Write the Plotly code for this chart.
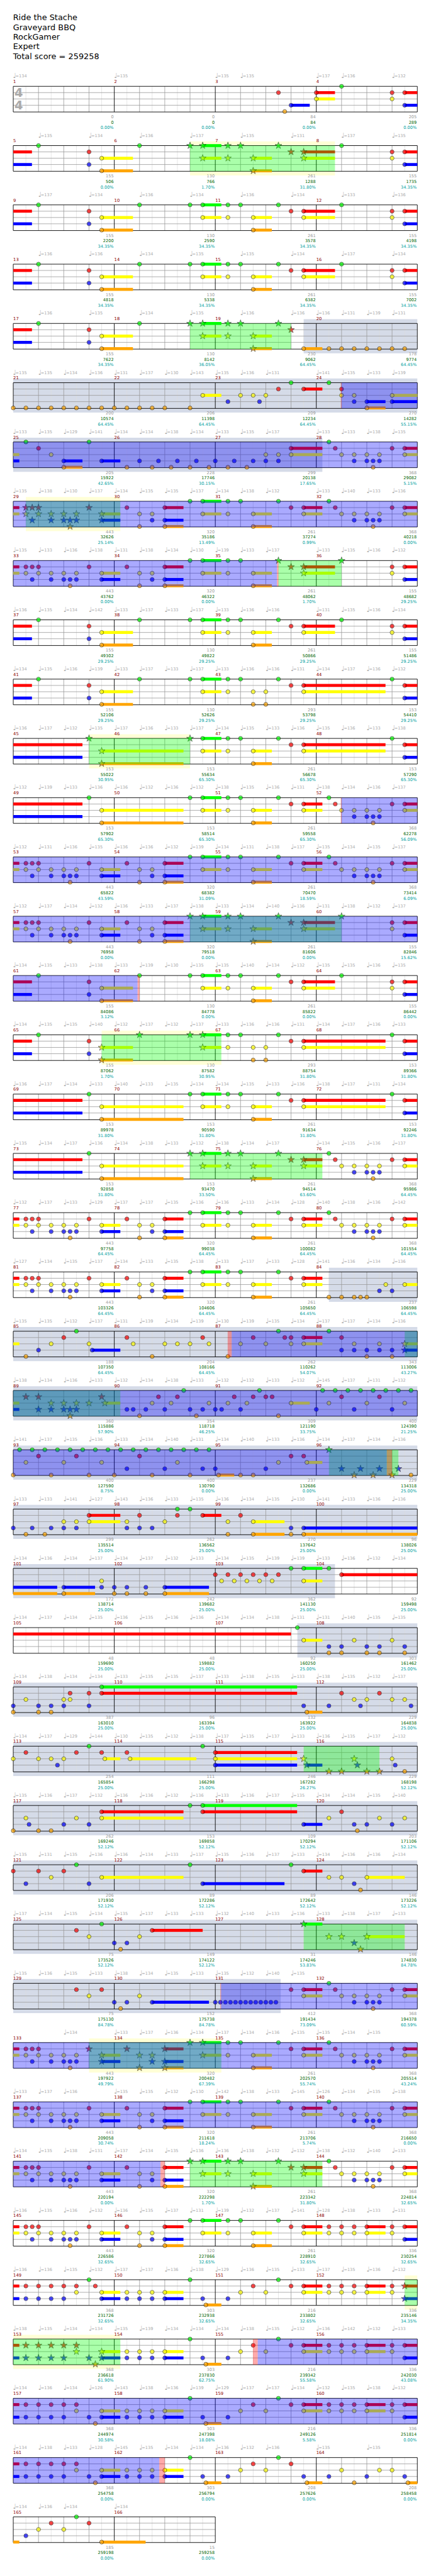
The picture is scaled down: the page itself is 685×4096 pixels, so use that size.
import plotly.graph_objects as go

_ = None
TITLE_LINES = ["Ride the Stache", "Graveyard BBQ", "RockGamer", "Expert", "Total score = 259258"]

# Notes per staff row, beat within the row; (start, end) is a sustained note (end > 16 runs on to next row)
GREEN = [
 [13],
 [1,5,7,(7.5,8.24),8.5,9,10.5,13],
 [1,5,7,(7.5,8.24),8.5,9,10.5,13],
 [1,5,7,(7.5,8.24),8.5,9,10.5,13],
 [1,5,7,(7.5,8.24),8.5,9,10.5],
 [11,12.5],
 [.5,3,12.5],
 [7,(7.5,8.24),8.5,9,10.5,12.5],
 [7,(7.5,8.24),8.5,9,10.5,13],
 [1,5,7,(7.5,8.24),8.5,9,10.5,13],
 [1,5,7,(7.5,8.24),8.5,9,10.5,15],
 [3,7,(7.5,8.24),8.5,9,10.5,15],
 [3,7,(7.5,8.24),8.5,9,10.5,12.5],
 [7,(7.5,8.24),8.5,9,10.5,12.5],
 [7,(7.5,8.24),8.5,9,10.5,13],
 [1,5,7,(7.5,8.24),8.5,9,10.5,13],
 [1,5,7,(7.5,8.24),8.5,9,10.5,15],
 [3,7,(7.5,8.24),8.5,9,10.5,15],
 [3,7,(7.5,8.24),8.5,9,10.5,12.5],
 [7,(7.5,8.24),8.5,9,10.5,12.5],
 [7,(7.5,8.24),8.5,9,10.5],
 [2.5,10.5,12.5],
 [6.75,9.75,12.25,12.75,13.25,13.75,14.25,14.75,15.25,15.75],
 [.25,.75,1.25,1.75,2.25,2.75,3.25,3.75,4.25,4.75,5.25,5.75,6.25,6.75,7.25,7.75,12.5],
 [6.5,7],
 [11,(11.5,12.24),12.5],
 [11.25],
 [(3.5,11.24)],
 [3,7.5],
 [7,(7.5,11.24)],
 [2.5,7,11],
 [3.5,(11.5,12.24)],
 [12.5],
 [7,(7.5,8.24),8.5,9,10.5,12.5],
 [7,(7.5,8.24),8.5,9,10.5,12.5],
 [7,(7.5,8.24),8.5,9,10.5,12.5],
 [7,(7.5,8.24),8.5,9,10.5],
 [3,7,10.5],
 [7,10.5],
 [7,10.5],
 [7,10.5],
 [2.5],
]
RED = [
 [10.5,(12,12.74),15,(15.5,16.74)],
 [3,11,(11.5,12.74),15,(15.5,16.74)],
 [3,11,(11.5,12.74),15,(15.5,16.74)],
 [3,11,(11.5,12.74),15,(15.5,16.74)],
 [3,11],
 [10.5,(11.5,12.24),13],
 [1,(11,12.24),12.75,15,(15.5,16.24)],
 [.5,.75,1,3,4.5,(6,6.74),11,(11.5,12.24),12.75,15,(15.5,16.24)],
 [.5,.75,1,3,4.5,(6,6.74),11,(11.5,12.74),15,(15.5,16.74)],
 [3,11,(11.5,12.74),15,(15.5,16.74)],
 [3,11,(11.5,14.74),(15.5,18.74)],
 [11,(11.5,14.74),(15.5,18.74)],
 [11,(11.5,12.24),12.75,15,(15.5,16.24)],
 [.5,.75,1,3,4.5,(6,6.74),11,(11.5,12.24),12.75,15,(15.5,16.24)],
 [.5,.75,1,3,4.5,(6,6.74),11,(11.5,12.74),15,(15.5,16.74)],
 [3,11,(11.5,12.74),15,(15.5,16.74)],
 [3,11,(11.5,14.74),(15.5,18.74)],
 [11,(11.5,14.74),(15.5,18.74)],
 [11,(11.5,12.24),12.75,15,(15.5,16.24)],
 [.5,.75,1,3,4.5,(6,6.74),11,(11.5,12.24),12.75,15,(15.5,16.24)],
 [.5,.75,1,3,4.5,(6,6.74),11,(11.5,12.24)],
 [2,4.5,7.5,9.5,10.75,11,(11.5,12.24),13],
 [.5,1,3.5,5.75,6.5,8.75,9.5,10,10.25,13,14.5],
 [1,2.5,5,11,11.5],
 [(3,4.24),5,6.5,(7.5,8.24),9],
 [8,8.5,9,9.5,10,10.5,(13,27)],
 [],
 [2.25,3,(3.5,11.24),13,14.5],
 [.5,2.5,3.5,4.5,(8,11.24)],
 [(3.5,6.74),(7.5,11.24),13],
 [0,1,2,(11.5,12.24)],
 [2.5,(5.5,7.5)],
 [2.5,3.5,11,(11.5,12.24),12.75,15,(15.5,16.24)],
 [.5,.75,1,3,4.5,(6,6.74),11,(11.5,12.24),12.75,15,(15.5,16.24)],
 [.5,.75,1,3,4.5,(6,6.74),11,(11.5,12.24),12.75,15,(15.5,16.24)],
 [.5,.75,1,3,4.5,(6,6.74),11,(11.5,12.24),12.75,15,(15.5,16.24)],
 [.5,.75,1,3,4.5,(6,6.74),11,(11.5,12.24),12.5,13,13.5,(14,14.74),15,(15.5,16.24)],
 [.5,1,1.5,2,2.5,3.25,9.5,11,(11.5,12.24),12.5,13,13.5,(14,14.74),15,(15.5,16.24)],
 [.5,1,1.5,2,2.5,9.5,11,(11.5,12.24),12.5,13,13.5,(14,14.74),15,(15.5,16.24)],
 [.5,1,1.5,2,2.5,9.5,11,(11.5,12.24),12.5,13,13.5,(14,14.74),15,(15.5,16.24)],
 [.5,1,1.5,2,2.5,9.5,11],
 [1.5,3],
]
YELLOW = [
 [(12,12.74),15],
 [(3.5,4.74),(7.5,8.24),8.5,(9.5,10.24),(11.5,12.74),15],
 [(3.5,4.74),(7.5,8.24),8.5,(9.5,10.24),(11.5,12.74),15],
 [(3.5,4.74),(7.5,8.24),8.5,(9.5,10.24),(11.5,12.74),15],
 [(3.5,4.74),(7.5,8.24),8.5,(9.5,10.24)],
 [(7.5,8.24),9,9.5,10,13,13.5,(15,16.24)],
 [1.5,10,10.5,(11,12.24),13,13.5,14,14.5,(15.5,16.24)],
 [.5,1,1.5,2,2.5,(3.5,4.24),5,5.5,(7.5,8.24),8.5,(9.5,10.24),(11.5,12.24),13,13.5,14,14.5,(15.5,16.24)],
 [.5,1,1.5,2,2.5,(3.5,4.24),5,5.5,(7.5,8.24),8.5,(9.5,10.24),(11.5,12.74),15],
 [(3.5,4.74),(7.5,8.24),8.5,(9.5,10.24),(11.5,12.74),15],
 [(3.5,4.74),(7.5,8.24),8.5,9.5,10,(11.5,14.74)],
 [(3.5,6.74),(7.5,8.24),8.5,(9.5,10.24),(11.5,14.74)],
 [(3.5,6.74),(7.5,8.24),8.5,(9.5,10.24),(11.5,12.24),13,13.5,14,14.5,(15.5,16.24)],
 [.5,1,1.5,2,2.5,(3.5,4.24),5,5.5,(7.5,8.24),8.5,(9.5,10.24),(11.5,12.24),13,13.5,14,14.5,(15.5,16.24)],
 [.5,1,1.5,2,2.5,(3.5,4.24),5,5.5,(7.5,8.24),8.5,(9.5,10.24),(11.5,12.74),15],
 [(3.5,4.74),(7.5,8.24),8.5,(9.5,10.24),(11.5,12.74),15],
 [(3.5,4.74),(7.5,8.24),8.5,9.5,10,(11.5,14.74)],
 [(3.5,6.74),(7.5,8.24),8.5,(9.5,10.24),(11.5,14.74)],
 [(3.5,6.74),(7.5,8.24),8.5,(9.5,10.24),(11.5,12.24),13,13.5,14,14.5,(15.5,16.24)],
 [.5,1,1.5,2,2.5,(3.5,4.24),5,5.5,(7.5,8.24),8.5,(9.5,10.24),(11.5,12.24),13,13.5,14,14.5,(15.5,16.24)],
 [.5,1,1.5,2,2.5,(3.5,4.24),5,5.5,(7.5,8.24),8.5,(9.5,10.24),(11.5,12.24),14.75,(15.5,16.24)],
 [1.5,3,4.75,6,6.5,7,7.75,9,10,11,(11.5,12.24),13.5,14.5,(15.5,16.24)],
 [1.5,2,2.5,3,(3.625,4.24),5.5,6.25,7.75,8.5,9.25,(11,11.74),12.5,14,15.5],
 [.5,2,3.5,6.5,10.5,(11.625,12.24)],
 [2,2.5,(3,4.24),4.5,6,8.5,(9.5,10.74)],
 [3.5,8.25,8.75,9.25,9.75,10.25,(11.5,12.24)],
 [(11.5,12.24),13.5,15],
 [.5,2,2.25,13.5,14,15,15.5],
 [0,1,1.5,2,(3.625,4.24),(4.625,7.25),(8,11.24),11.5,13.5,15],
 [.5,2.5,(3.5,6.74),12.5,14.5,15.5],
 [1.5,(3.5,6.74),12.5,13,(14,15.5)],
 [3,5,12.5,13,(14,15.5)],
 [3,5,(11.5,12.24),13,13.5,14,14.5,(15.5,16.24)],
 [.5,1,1.5,2,2.5,(3.5,4.24),5,5.5,(7.5,8.24),8.5,(9.5,10.24),(11.5,12.24),13,13.5,14,14.5,(15.5,16.24)],
 [.5,1,1.5,2,2.5,(3.5,4.24),5,5.5,(7.5,8.24),8.5,(9.5,10.24),(11.5,12.24),13,13.5,14,14.5,(15.5,16.24)],
 [.5,1,1.5,2,2.5,(3.5,4.24),5,5.5,(7.5,8.24),8.5,(9.5,10.24),(11.5,12.24),13,13.5,14,14.5,(15.5,16.24)],
 [.5,1,1.5,2,2.5,(3.5,4.24),5,5.5,(7.5,8.24),8.5,(9.5,10.24),(11.5,12.24),12.5,13,13.5,(14,14.74),15],
 [2.5,(3.5,4.24),4.5,5,5.5,(6,6.74),9,10,(11.5,12.24),12.5,13,13.5,(14,14.74),15],
 [2.5,(3.5,4.24),4.5,5,5.5,(6,6.74),9,10,(11.5,12.24),12.5,13,13.5,(14,14.74),15],
 [2.5,(3.5,4.24),4.5,5,5.5,(6,6.74),9,10,(11.5,12.24),12.5,13,13.5,(14,14.74),15],
 [2.5,(3.5,4.24),4.5,5,5.5,(6,6.74),9,10,13,14.5,15],
 [1,2],
]
BLUE = [
 [(11,11.74),(15.5,16.74)],
 [3,(15.5,16.74)],
 [3,(15.5,16.74)],
 [3,(15.5,16.74)],
 [3],
 [8.5,9.75,13.5,(14,14.74),(15,16.24)],
 [(2,2.74),(3.5,4.24),5,5.75,6.5,7.25,8,8.75,9.5,10,10.5,13.5,14,14.25,14.5],
 [.75,1.5,2,2.25,2.5,(3.5,4.24),5.5,(6,6.74),13.5,14,14.25,14.5],
 [.75,1.5,2,2.25,2.5,(3.5,4.24),5.5,(6,6.74),(15.5,16.74)],
 [3,(15.5,16.74)],
 [3,(15.5,18.74)],
 [(15.5,18.74)],
 [13.5,14,14.25,14.5],
 [.75,1.5,2,2.25,2.5,(3.5,4.24),5.5,(6,6.74),13.5,14,14.25,14.5],
 [.75,1.5,2,2.25,2.5,(3.5,4.24),5.5,(6,6.74),(15.5,16.74)],
 [3,(15.5,16.74)],
 [3,(15.5,18.74)],
 [(15.5,18.74)],
 [13.5,14,14.25,14.5],
 [.75,1.5,2,2.25,2.5,(3.5,4.24),5.5,(6,6.74),13.5,14,14.25,14.5],
 [.75,1.5,2,2.25,2.5,(3.5,4.24),5.5,(6,6.74),14.5,15],
 [1,(3.125,4.24),13,13.5,14,14.5,15,(15.5,16.24)],
 [1,1.5,2,2.25,2.5,4.5,4.75,5.25,6,7,7.5,8,8.25,9,12,13.5,15],
 [4.5,6,7.5,8,10,13,13.75,14.5,15.25],
 [0,.75,1.5,2,2.5,4.5,5,5.5,11,(11.5,17.74)],
 [(2,3.24),3.5,4,4.5,5.25,(6,7.75)],
 [12.5,13,14,14.5,15.5],
 [0,1,1.5,2,3,11.5,12.5,13.75,15.75],
 [1.75,(8,11.24),(11.625,12.24),13.625,15.125],
 [.625,2,3,(11.5,12.24),13.5,14,15],
 [.5,3,(7.5,10.74),13.5],
 [4,4.5,13.5],
 [4,4.5,(5.5,7.75),8,8.2,8.4,8.6,8.8,9,9.2,9.4,9.6,9.8,10,10.2,10.4,13.5,14,14.25,14.5],
 [.75,1.5,2,2.25,2.5,(3.5,4.24),5.5,(6,6.74),13.5,14,14.25,14.5],
 [.75,1.5,2,2.25,2.5,(3.5,4.24),5.5,(6,6.74),13.5,14,14.25,14.5],
 [.75,1.5,2,2.25,2.5,(3.5,4.24),5.5,(6,6.74),13.5,14,14.25,14.5],
 [.75,1.5,2,2.25,2.5,(3.5,4.24),5.5,(6,6.74),(15.5,16.24)],
 [.5,1,1.5,2,(3.5,4.24),4.5,5,5.5,(6,6.74),7.5,8.5,(15.5,16.24)],
 [.5,1,1.5,2,3,(3.5,4.24),4.5,5,5.5,(6,6.74),7.5,8.5,(15.5,16.24)],
 [.5,1,1.5,2,3,(3.5,4.24),4.5,5,5.5,(6,6.74),7.5,8.5,(15.5,16.24)],
 [.5,1,1.5,2,3,(3.5,4.24),4.5,5,5.5,(6,6.74),7.5,8.5,11.5,12.5,14,15.5],
 [.5],
]
ORANGE = [
 [10.75],
 [(3.5,4.74),(9.5,10.24)],
 [(3.5,4.74),(9.5,10.24)],
 [(3.5,4.74),(9.5,10.24)],
 [(3.5,4.74),(9.5,10.24),(11.5,12.24),12.5,13,13.5,14,14.5,15,15.5],
 [0,.5,1,1.5,2,2.5,3,3.5,4,4.5,5,5.5,6,7,(14,14.74)],
 [(2,2.74),4.5,5.5,6.25,7,7.75,8.5,9.25,14.25],
 [2.25,5,(6,6.74),(9.5,10.24),14.25],
 [2.25,5,(6,6.74),(9.5,10.24)],
 [(3.5,4.74),(9.5,10.24)],
 [(3.5,4.74),9.5,10],
 [(3.5,6.74),(9.5,10.24)],
 [(3.5,6.74),(9.5,10.24),14.25],
 [2.25,5,(6,6.74),(9.5,10.24),14.25],
 [2.25,5,(6,6.74),(9.5,10.24)],
 [(3.5,4.74),(9.5,10.24)],
 [(3.5,4.74),9.5,10],
 [(3.5,6.74),(9.5,10.24)],
 [(3.5,6.74),(9.5,10.24),14.25],
 [2.25,5,(6,6.74),(9.5,10.24),14.25],
 [2.25,5,(6,6.74),(9.5,10.24),12.5,13,13.5,13.75,14],
 [.5,5.5,8.5,14,15],
 [2.25,5,7.25,10.5],
 [0,1.5,3,4,5.5,7,(8.125,8.75),9,9.5,13.5,14.25,15,15.75],
 [.5,1.25,8.5,(9.5,10.74),11,(11.5,17.74)],
 [(2,3.24),4,4.5,5.25,(6,7.75)],
 [12.5,13,14,14.5,15.5],
 [0,1,1.5,(11.625,12.24)],
 [12.5,13,14,14.5,15.5],
 [0,1,1.5,13.625],
 [13.75],
 [4.25,13.75],
 [4.25,14.25],
 [2.25,5,(6,6.74),(9.5,10.24),14.25],
 [2.25,5,(6,6.74),(9.5,10.24),14.25],
 [2.25,5,(6,6.74),(9.5,10.24),14.25],
 [2.25,5,(6,6.74),(9.5,10.24)],
 [(7.625,8.24)],
 [3.25,(7.625,8.24)],
 [3.25,(7.625,8.24)],
 [3.25,(7.625,8.24),(11.625,12.24),13.5,(15.625,16.24)],
 [(3.5,5.24)],
]

# Ranges: (first row, beat, last row, beat)
STAR_RANGES = [(1,7,1,12.74),(4,7,4,11),(7,.5,7,4.24),(8,10.5,8,13),(11,3,11,7),(14,7,14,13),
               (16,3.5,16,8.24),(18,7,18,12.24),(21,15.5,22,4.24),(23,12.5,23,15.25),(28,11.5,28,14.5),
               (31,11.5,31,15.5),(33,3,33,8.24),(35,7,35,12.24),(37,15.5,38,4.24)]
PALE_RANGES = [(1,7,1,12.74),(7,.5,7,4.24),(11,3,11,7),(16,3.5,16,8.24),(33,3,33,8.24),(37,15.5,38,4.24)]
GREY_RANGES = [(4,11.5,6,12.24),(20,12.5,25,12.74),(26,11.25,32,10.59)]
BLUE_RANGES = [(5,13,8,10.44),(12,13,15,4.92),(21,8.65,23,14.79),(32,8.23,35,5.83),(38,9.68,40,5.78)]
RED_RANGES = [(5,12.97,5,13),(8,10.44,8,10.5),(12,12.97,12,13),(15,4.92,15,5),(21,8.49,21,8.65),
              (23,14.79,23,15),(32,8.2,32,8.23),(35,5.83,35,6),(38,9.49,38,9.68),(40,5.78,40,6)]

# Tempo marks per row, one slot per beat
TEMPOS = [
 [134,_,_,_,135,_,_,_,135,135,_,_,137,136,_,132],
 [_,135,_,134,_,136,_,137,_,135,_,131,_,137,_,135],
 [_,137,_,134,_,136,_,134,_,136,_,134,_,133,_,136],
 [_,136,_,136,_,134,_,135,_,135,_,134,_,137,_,134],
 [_,136,_,135,_,134,_,135,_,136,_,136,136,131,139,131],
 [135,135,134,136,131,137,130,143,135,136,131,_,141,135,133,139],
 [133,135,129,141,134,134,138,134,133,135,137,_,133,133,138,135],
 [135,138,130,137,134,135,135,137,134,138,132,_,133,140,133,136],
 [135,133,136,138,131,138,134,130,139,133,137,_,133,135,136,132],
 [136,135,134,142,133,137,133,137,133,136,136,_,131,135,136,134],
 [134,135,136,139,133,137,133,137,133,136,136,131,134,137,136,132],
 [136,137,132,135,137,136,133,137,134,135,133,136,135,136,133,138],
 [132,139,133,136,136,132,136,132,138,135,136,131,138,134,136,137],
 [132,131,136,135,136,136,132,139,134,131,138,137,135,134,135,137],
 [132,137,134,132,136,133,137,138,133,134,140,136,131,138,132,137],
 [134,135,133,138,133,139,130,135,135,140,134,132,135,135,136,135],
 [134,135,135,140,132,137,132,137,133,136,136,131,134,137,136,133],
 [136,137,134,133,140,133,135,134,134,135,133,136,138,137,131,134],
 [135,134,137,136,134,138,133,132,138,134,137,_,134,135,136,137],
 [132,137,133,129,137,137,135,136,136,133,134,128,140,138,136,142],
 [127,134,135,137,134,133,135,138,133,137,133,128,141,136,134,136],
 [135,135,132,137,131,139,134,139,130,139,135,134,137,137,134,136],
 [138,134,136,133,132,134,138,133,132,132,133,132,145,137,131,132],
 [141,137,135,136,133,134,140,131,134,140,133,136,134,137,134,136],
 [133,133,141,127,143,136,133,135,136,134,135,130,141,133,136,136],
 [134,136,134,137,134,137,132,133,134,135,139,139,133,136,132,134],
 [134,137,134,135,136,135,136,136,134,134,138,131,131,140,135,135],
 [134,138,134,134,133,135,135,137,133,138,135,133,138,135,132,137],
 [134,137,129,144,130,135,132,138,137,135,137,133,136,135,137,132],
 [135,136,137,132,136,136,132,136,133,136,137,135,134,134,135,140],
 [135,131,135,136,136,134,133,137,135,136,137,133,134,136,136,134],
 [137,134,135,134,135,137,133,133,132,140,133,136,133,138,137,133],
 [135,136,135,133,138,134,135,133,135,132,140,135,_,_,_,_],
 [_,_,134,_,133,137,136,134,137,134,136,135,135,134,135,_],
 [133,137,136,_,135,135,132,130,142,138,133,145,126,134,135,138],
 [134,135,138,131,137,134,135,136,136,138,132,132,138,132,140,133],
 [136,135,136,132,136,135,137,131,139,132,137,141,128,138,133,131],
 [136,136,135,132,137,137,136,138,129,136,135,133,137,135,136,132],
 [138,135,134,134,135,139,134,134,134,138,135,132,136,142,132,133],
 [134,136,134,126,143,138,136,139,129,137,137,134,132,135,138,132],
 [134,138,133,128,145,135,134,134,136,132,136,_,135,_,135,_],
 [134,136,134,_,134,_,_,_],
]

# Per measure
MEASURE_POINTS = [0,0,84,205, 155,130,261,155, 155,130,261,155, 155,130,261,155, 155,130,230,178,
 200,206,209,270, 205,228,299,368, 443,320,261,368, 443,320,261,155, 155,130,261,155,
 155,130,293,153, 153,153,261,153, 153,153,261,368, 443,320,261,368, 443,320,261,155,
 155,130,261,155, 155,130,293,153, 153,153,261,153, 153,153,261,368, 443,320,261,368,
 443,320,261,237, 188,204,262,343, 360,354,309,400, 400,400,237,229, 299,262,270,96,
 172,242,362,92, 48,48,92,303, 387,96,132,229, 254,111,246,229, 262,153,109,203,
 206,89,89,146, 75,149,31,146, 75,152,412,368, 443,320,261,368, 443,320,261,368,
 443,320,261,368, 443,320,261,336, 368,303,216,336, 368,303,216,336, 368,303,216,336,
 368,303,208,208, 185,15]
RUNNING_TOTAL = [0,0,84,289, 506,766,1288,1735, 2200,2590,3578,4198, 4818,5338,6382,7002,
 7622,8142,9062,9774, 10574,11398,12234,14282, 15922,17746,20138,29082, 32626,35186,37274,40218,
 43762,46322,48062,48682, 49302,49822,50866,51486, 52106,52626,53798,54410, 55022,55634,56678,57290,
 57902,58514,59558,62278, 65822,68382,70470,73414, 76958,79518,81606,82846, 84086,84778,85822,86442,
 87062,87582,88754,89366, 89978,90590,91634,92246, 92858,93470,94514,95986, 97758,99038,100082,101554,
 103326,104606,105650,106598, 107350,108166,110262,113006, 115886,118718,121190,124390,
 127590,130790,132686,134318, 135514,136562,137642,138026, 138714,139682,141130,159498,
 159690,159882,160250,161462, 163010,163394,163922,164838, 165854,166298,167282,168198,
 169246,169858,170294,171106, 171930,172286,172642,173226, 173526,174122,174246,174830,
 175130,175738,191434,194378, 197922,200482,202570,205514, 209058,211618,213706,216650,
 220194,222298,223342,224814, 226586,227866,228910,230254, 231726,232938,233802,235146,
 236618,237830,239342,242030, 244974,247398,249126,251814, 254758,256794,257626,258458, 259198,259258]
PERCENT = [0,0,0,0, 0,1.70,31.80,34.35, 34.35,34.35,34.35,34.35, 34.35,34.35,34.35,34.35,
 34.35,36.05,64.45,64.45, 64.45,64.45,64.45,55.15, 42.65,30.15,17.65,5.15, 25.14,13.49,0.99,0,
 0,0,1.70,29.25, 29.25,29.25,29.25,29.25, 29.25,29.25,29.25,29.25, 30.95,65.30,65.30,65.30,
 65.30,65.30,65.30,56.09, 43.59,31.09,18.59,6.09, 0,0,0,15.62, 3.12,0,0,0,
 1.70,30.95,31.80,31.80, 31.80,31.80,31.80,31.80, 31.80,33.50,63.60,64.45, 64.45,64.45,64.45,64.45,
 64.45,64.45,64.45,64.45, 64.45,64.45,54.07,43.27, 57.90,46.25,33.75,21.25, 8.75,0,0,25.00,
 25.00,25.00,25.00,25.00, 25.00,25.00,25.00,25.00, 25.00,25.00,25.00,25.00, 25.00,25.00,25.00,25.00,
 25.00,25.00,26.27,52.12, 52.12,52.12,52.12,52.12, 52.12,52.12,52.12,52.12, 52.12,52.12,53.83,84.78,
 84.78,84.78,73.09,60.59, 49.79,67.39,55.74,43.24, 30.74,18.24,5.74,0, 0,1.70,31.80,32.65,
 32.65,32.65,32.65,32.65, 32.65,32.65,32.65,34.35, 61.90,62.75,55.58,43.08, 30.58,18.08,5.58,0,
 0,0,0,0, 0,0]

# --- Geometry (reference pixels, expressed through beat / lane axes) ---
W_REF, H_REF = 1024, 6127
BEAT_PX, LANE_PX, ROW_PX = 60.0, 15.0, 141.0
LEFT_PX, TOP_PX = 31.5, 205.3
ROW_STEP = ROW_PX / LANE_PX
STAFF_BOTTOM = 4.07
BAND = 0.67
FONT = "DejaVu Sans"
NROWS = len(GREEN)

def Y(row, lane):
    return row * ROW_STEP + lane

def row_beats(row):
    return len(TEMPOS[row])

def segments(r1, b1, r2, b2):
    for r in range(r1, r2 + 1):
        yield r, (b1 if r == r1 else 0), (b2 if r == r2 else row_beats(r))

def starred(row, beat):
    g = row * 16 + beat
    return any(a * 16 + b - 1e-6 <= g <= c * 16 + d + 1e-6 for a, b, c, d in STAR_RANGES)

def rect(x0, x1, y0, y1, color, layer):
    return dict(type="rect", xref="x", yref="y", x0=x0, x1=x1, y0=y0, y1=y1,
                fillcolor=color, line=dict(width=0), layer=layer)

shapes = []
for rng in GREY_RANGES:
    for r, a, b in segments(*rng):
        shapes.append(rect(a, b, Y(r, -BAND), Y(r, STAFF_BOTTOM + BAND), "#d5dbe8", "below"))
for rng in PALE_RANGES:
    for r, a, b in segments(*rng):
        shapes.append(rect(a, b, Y(r, -BAND), Y(r, 0), "#ffffd6", "below"))
        shapes.append(rect(a, b, Y(r, STAFF_BOTTOM), Y(r, STAFF_BOTTOM + BAND), "#ffffd6", "below"))

light, mid, dark = [], [], []
for r in range(NROWS):
    n = row_beats(r)
    y0, y1 = Y(r, 0), Y(r, STAFF_BOTTOM)
    for k in range(n):
        light.append(f"M{k + .5},{y0}L{k + .5},{y1}")
        if k % 4:
            mid.append(f"M{k},{y0}L{k},{y1}")
        else:
            dark.append(f"M{k},{y0}L{k},{y1}")
    dark.append(f"M{n},{y0}L{n},{y1}")
    for lane in (1, 2, 3):
        mid.append(f"M0,{Y(r, lane)}L{n},{Y(r, lane)}")
    dark.append(f"M0,{y0}L{n},{y0}")
    dark.append(f"M0,{y1}L{n},{y1}")
for path, col, wd in (("".join(light), "#dddddd", .7), ("".join(mid), "#999999", .8), ("".join(dark), "#000000", .9)):
    shapes.append(dict(type="path", xref="x", yref="y", path=path, line=dict(color=col, width=wd), layer="below"))

for rng, col in ((STAR_RANGES, "rgba(0,255,0,0.333)"), (RED_RANGES, "rgba(255,0,0,0.333)"), (BLUE_RANGES, "rgba(0,0,255,0.333)")):
    for seg in rng:
        for r, a, b in segments(*seg):
            shapes.append(rect(a, b, Y(r, 0), Y(r, STAFF_BOTTOM), col, "above"))

fig = go.Figure()

LANES = [(GREEN, "#00ff00"), (RED, "#ff0000"), (YELLOW, "#ffff00"), (BLUE, "#0000ff"), (ORANGE, "#ffa500")]
for lane, (data, col) in enumerate(LANES):
    bx, bb, by = [], [], []
    for r, notes in enumerate(data):
        for n in notes:
            if isinstance(n, tuple):
                s, e = n
                rr, b = r, s
                while e > 16:
                    bx.append(16 - b); bb.append(b); by.append(Y(rr, lane))
                    e -= 16; rr += 1; b = 0
                bx.append(e - b); bb.append(b); by.append(Y(rr, lane))
    fig.add_trace(go.Bar(x=bx, base=bb, y=by, orientation="h", width=7 / LANE_PX,
                         marker=dict(color=col, line=dict(width=0)), hoverinfo="skip"))
for lane, (data, col) in enumerate(LANES):
    xs, ys, syms, sizes = [], [], [], []
    for r, notes in enumerate(data):
        for n in notes:
            b = n[0] if isinstance(n, tuple) else n
            st = starred(r, b)
            xs.append(b); ys.append(Y(r, lane))
            syms.append("star" if st else "circle")
            sizes.append(8.2 if st else 6.4)
    fig.add_trace(go.Scatter(x=xs, y=ys, mode="markers", hoverinfo="skip",
                             marker=dict(color=col, symbol=syms, size=sizes, line=dict(color="#000000", width=0.7))))

def text_trace(x, y, text, size, color, pos, **font):
    fig.add_trace(go.Scatter(x=x, y=y, text=text, mode="text", textposition=pos, hoverinfo="skip",
                             textfont=dict(family=FONT, size=size, color=color, **font)))

tx, ty, tt = [], [], []
for r, slots in enumerate(TEMPOS):
    for b, t in enumerate(slots):
        if t is not None:
            tx.append(b); ty.append(Y(r, 0)); tt.append(t)
text_trace([x - 0.012 for x in tx], [y - 1.57 for y in ty], ["\u2669"] * len(tx), 11, "#aaaaaa", "middle right")
text_trace([x + 0.088 for x in tx], [y - 1.56 for y in ty], [f"={t}" for t in tt], 6.6, "#aaaaaa", "middle right")

mx, my, mt = [], [], []
sx, sy = [], []
for m in range(len(MEASURE_POINTS)):
    r = m // 4
    mx.append((m % 4) * 4); my.append(Y(r, -0.69)); mt.append(str(m + 1))
    sx.append((m % 4 + 1) * 4 - 0.025); sy.append(r)
text_trace(mx, my, mt, 6.8, "#8b0000", "middle right")
text_trace(sx, [Y(r, 4.9) for r in sy], [str(v) for v in MEASURE_POINTS], 6.6, "#999999", "middle left")
text_trace(sx, [Y(r, 5.76) for r in sy], [str(v) for v in RUNNING_TOTAL], 6.6, "#006400", "middle left")
text_trace(sx, [Y(r, 6.63) for r in sy], [f"{v:.2f}%" for v in PERCENT], 6.6, "#00a0a0", "middle left")

text_trace([0.217, 0.217], [Y(0, 1.2), Y(0, 3.2)], ["4", "4"], 19.5, "#aaaaaa", "middle center", weight="bold")
text_trace([-0.01] * len(TITLE_LINES), [(43.6 + 23 * i - TOP_PX) / LANE_PX for i in range(len(TITLE_LINES))],
           TITLE_LINES, 12.9, "#000000", "middle right")

fig.update_layout(
    width=685, height=4096, margin=dict(l=0, r=0, t=0, b=0), showlegend=False, hovermode=False,
    paper_bgcolor="#ffffff", plot_bgcolor="#ffffff", barmode="overlay", shapes=shapes,
    xaxis=dict(visible=False, range=[-LEFT_PX / BEAT_PX, (W_REF - LEFT_PX) / BEAT_PX], fixedrange=True),
    yaxis=dict(visible=False, range=[(H_REF - TOP_PX) / LANE_PX, -TOP_PX / LANE_PX], fixedrange=True),
)
fig.write_html("out.html", config=dict(displayModeBar=False, staticPlot=True),
               post_script="document.body.style.margin='0';")
